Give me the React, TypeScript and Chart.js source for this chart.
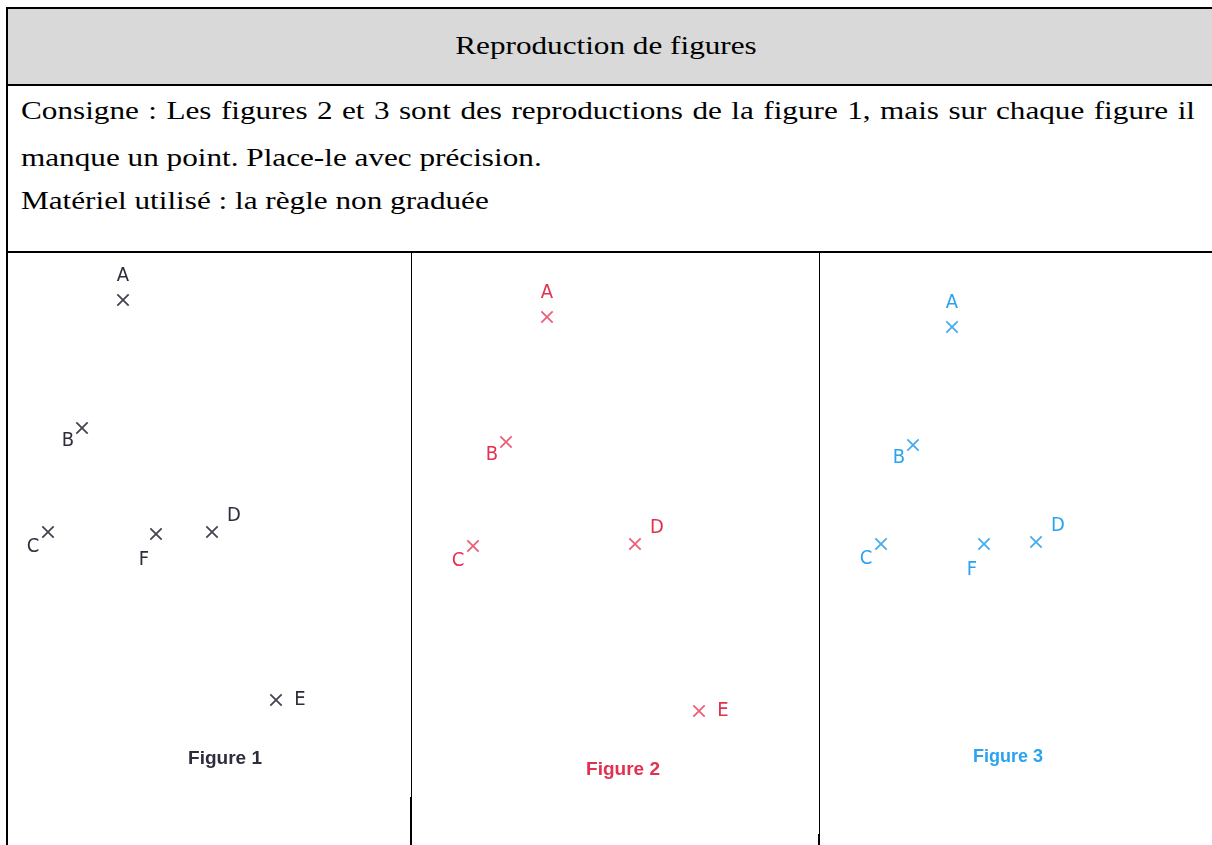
import React, { useEffect, useRef } from 'react';
import { Chart, registerables } from 'chart.js';

Chart.register(...registerables);

// ---------- Data (local coordinates inside each panel, y measured downward) ----------
const FIG1_LABELS = ['A', 'B', 'C', 'F', 'D', 'E'];
const FIG1_X = [115, 74, 40, 148, 204, 268];
const FIG1_Y = [47, 175, 279, 281, 279, 447];

const FIG2_LABELS = ['A', 'B', 'C', 'D', 'E'];
const FIG2_X = [134, 93, 60, 222, 286];
const FIG2_Y = [64, 189, 293, 291, 458];

const FIG3_LABELS = ['A', 'B', 'C', 'F', 'D'];
const FIG3_X = [132, 93, 61, 164, 216];
const FIG3_Y = [74, 192, 291, 291, 289];

const CAPTIONS = ['Figure 1', 'Figure 2', 'Figure 3'];

const TITLE = 'Reproduction de figures';
const INSTRUCTION_LINES = [
  'Consigne : Les figures 2 et 3 sont des reproductions de la figure 1, mais sur chaque figure il',
  'manque un point. Place-le avec précision.',
  'Matériel utilisé : la règle non graduée',
];

// ---------- Styles / layout ----------
const LABEL_OFFSETS: Record<string, [number, number]> = {
  A: [0, -24],
  B: [-14, 13],
  C: [-15, 15],
  D: [22, -16],
  E: [24, 0],
  F: [-12, 26],
};

type Panel = {
  left: number;
  width: number;
  labels: string[];
  xs: number[];
  ys: number[];
  caption: string;
  captionPos: [number, number];
  captionSize: number;
  textColor: string;
  crossColor: string;
};

const PANEL_TOP = 253;
const PANEL_HEIGHT = 592;

const PANELS: Panel[] = [
  {
    left: 8, width: 403, labels: FIG1_LABELS, xs: FIG1_X, ys: FIG1_Y,
    caption: CAPTIONS[0], captionPos: [217, 506], captionSize: 19,
    textColor: '#2d2d3c', crossColor: '#45454f',
  },
  {
    left: 413, width: 406, labels: FIG2_LABELS, xs: FIG2_X, ys: FIG2_Y,
    caption: CAPTIONS[1], captionPos: [210, 517], captionSize: 19,
    textColor: '#e2304e', crossColor: '#ea6078',
  },
  {
    left: 820, width: 392, labels: FIG3_LABELS, xs: FIG3_X, ys: FIG3_Y,
    caption: CAPTIONS[2], captionPos: [188, 504], captionSize: 18,
    textColor: '#2aa3ee', crossColor: '#45aef0',
  },
];

const SANS = '"Liberation Sans", Arial, sans-serif';
const NARROW = '"Liberation Sans Narrow", "Arial Narrow", "DejaVu Sans Condensed", sans-serif';
const SERIF = '"Liberation Serif", "Times New Roman", serif';
const TEXT_STRETCH = 1.2;
const JUSTIFY_WIDTH = 1174; // visible width of the justified first line

function FigureChart({ panel }: { panel: Panel }) {
  const ref = useRef<HTMLCanvasElement | null>(null);

  useEffect(() => {
    if (!ref.current) return;
    const labelPlugin = {
      id: 'pointLabels',
      afterDatasetsDraw(chart: any) {
        const ctx = chart.ctx as CanvasRenderingContext2D;
        const meta = chart.getDatasetMeta(0);
        ctx.save();
        ctx.fillStyle = panel.textColor;
        ctx.font = `20px ${NARROW}`;
        ctx.textAlign = 'center';
        ctx.textBaseline = 'middle';
        meta.data.forEach((el: any, i: number) => {
          const lab = panel.labels[i];
          const off = LABEL_OFFSETS[lab] || [0, 0];
          ctx.fillText(lab, el.x + off[0], el.y + off[1]);
        });
        ctx.font = `bold ${panel.captionSize}px ${SANS}`;
        ctx.fillText(panel.caption, panel.captionPos[0], panel.captionPos[1]);
        ctx.restore();
      },
    };

    const chart = new Chart(ref.current, {
      type: 'scatter',
      data: {
        datasets: [
          {
            data: panel.xs.map((x, i) => ({ x, y: panel.ys[i] })),
            pointStyle: 'crossRot',
            pointRadius: 8,
            pointBorderWidth: 1.8,
            borderColor: panel.crossColor,
            backgroundColor: panel.crossColor,
            clip: false as any,
          },
        ],
      },
      options: {
        animation: false,
        responsive: false,
        devicePixelRatio: 1,
        layout: { padding: 0, autoPadding: false } as any,
        plugins: {
          legend: { display: false },
          tooltip: { enabled: false },
          title: { display: false },
        },
        scales: {
          x: { type: 'linear', min: 0, max: panel.width, display: false },
          y: { type: 'linear', min: 0, max: PANEL_HEIGHT, reverse: true, display: false },
        },
        events: [],
      },
      plugins: [labelPlugin],
    });
    return () => chart.destroy();
  }, [panel]);

  return (
    <canvas
      ref={ref}
      width={panel.width}
      height={PANEL_HEIGHT}
      style={{
        position: 'absolute',
        left: panel.left,
        top: PANEL_TOP,
        width: panel.width,
        height: PANEL_HEIGHT,
      }}
    />
  );
}

export default function App() {
  const line = (style: React.CSSProperties) => (
    <div style={{ position: 'absolute', background: '#000', ...style }} />
  );
  const textBase: React.CSSProperties = {
    position: 'absolute',
    fontFamily: SERIF,
    fontSize: 26,
    color: '#000',
    whiteSpace: 'nowrap',
    lineHeight: '30px',
    transform: `scaleX(${TEXT_STRETCH})`,
    transformOrigin: 'left center',
  };
  return (
    <div
      style={{
        position: 'absolute',
        left: 0,
        top: 0,
        width: 1212,
        height: 845,
        overflow: 'hidden',
        background: '#fff',
      }}
    >
      {/* header band */}
      <div style={{ position: 'absolute', left: 8, top: 9, width: 1204, height: 75, background: '#d9d9d9' }} />
      <div
        style={{
          ...textBase,
          left: 0,
          width: 1212,
          top: 31,
          textAlign: 'center',
          transformOrigin: '606px center',
        }}
      >
        {TITLE}
      </div>

      {/* instructions */}
      <div
        style={{
          ...textBase,
          left: 21,
          top: 96,
          width: JUSTIFY_WIDTH / TEXT_STRETCH,
          textAlign: 'justify',
          textAlignLast: 'justify' as any,
          whiteSpace: 'normal',
          height: 30,
          overflow: 'hidden',
        }}
      >
        {INSTRUCTION_LINES[0]}
      </div>
      <div style={{ ...textBase, left: 21, top: 143 }}>{INSTRUCTION_LINES[1]}</div>
      <div style={{ ...textBase, left: 21, top: 186 }}>{INSTRUCTION_LINES[2]}</div>

      {/* borders */}
      {line({ left: 6, top: 7, width: 1206, height: 2 })}
      {line({ left: 6, top: 7, width: 2, height: 838 })}
      {line({ left: 6, top: 84, width: 1206, height: 2 })}
      {line({ left: 6, top: 251, width: 1206, height: 2 })}
      {line({ left: 411, top: 251, width: 1, height: 546 })}
      {line({ left: 410, top: 797, width: 2, height: 48 })}
      {line({ left: 819, top: 251, width: 1, height: 583 })}
      {line({ left: 818, top: 834, width: 2, height: 11 })}

      {PANELS.map((p, i) => (
        <FigureChart key={i} panel={p} />
      ))}
    </div>
  );
}
